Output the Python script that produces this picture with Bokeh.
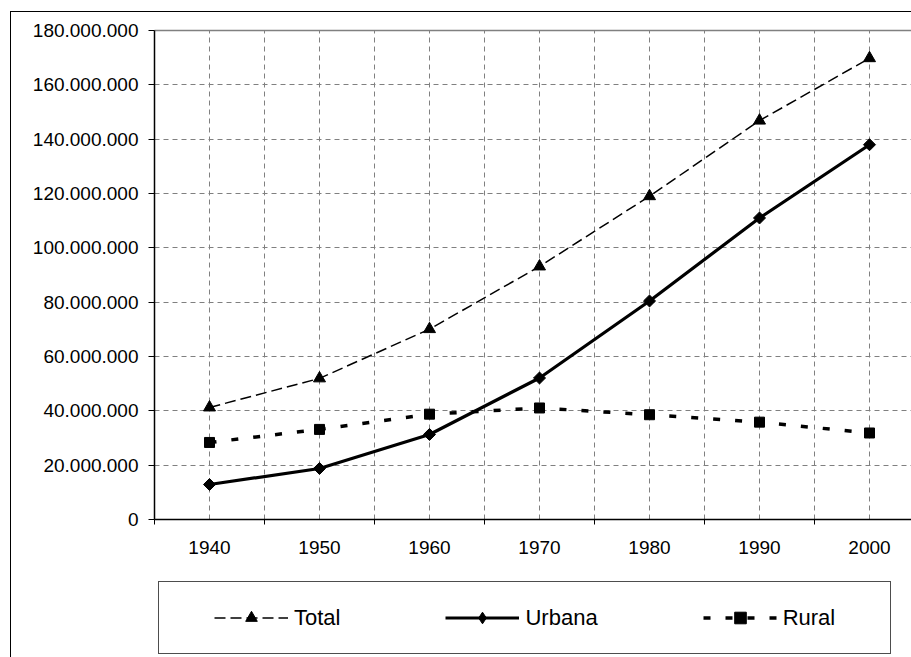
import numpy as np
from bokeh.plotting import figure
from bokeh.layouts import column
from bokeh.models import (Range1d, FixedTicker, CustomJSTickFormatter, LinearAxis,
                          Legend, LegendItem, ColumnDataSource)
from bokeh.embed import file_html
from bokeh.resources import INLINE

# ---- data ----
years = [1940, 1950, 1960, 1970, 1980, 1990, 2000]
year_labels = ["1940", "1950", "1960", "1970", "1980", "1990", "2000"]
total = [41236315, 51944397, 70070457, 93139037, 119002706, 146825475, 169799170]
urbana = [12880182, 18782891, 31303034, 52084984, 80436409, 110990990, 137953959]
rural = [28356133, 33161506, 38767423, 41054053, 38566297, 35834485, 31845211]
y_ticks = [0, 20000000, 40000000, 60000000, 80000000, 100000000,
           120000000, 140000000, 160000000, 180000000]
series_names = ["Total", "Urbana", "Rural"]

# ---- layout ----
W = 911
H1, H2 = 560, 97
LEFT, TOP, BOTTOM = 154, 30, 41
frame_w = W - LEFT
px_per_year = 11.0
x0 = years[0] - 5
FONT = "Liberation Sans"


def css_lines(lines):
    return {
        "background-color": "white",
        "background-image": ", ".join(f"linear-gradient({c},{c})" for c, _, _ in lines),
        "background-repeat": "no-repeat",
        "background-position": ", ".join(pos for _, pos, _ in lines),
        "background-size": ", ".join(sz for _, _, sz in lines),
    }


# ================= main chart =================
p = figure(width=W, height=H1, output_backend="svg", toolbar_location=None,
           x_range=Range1d(x0, x0 + frame_w / px_per_year),
           y_range=Range1d(y_ticks[0], y_ticks[-1]),
           min_border_left=LEFT, min_border_right=0,
           min_border_top=TOP, min_border_bottom=BOTTOM,
           background_fill_color="white", border_fill_color=None)
p.styles = css_lines([("#000000", "10px 11px", "1px 100%"),
                      ("#000000", "10px 11px", "100% 1px")])
p.outline_line_color = None

boundaries = [y - 5 for y in years]

xa = p.xaxis[0]
xa.ticker = FixedTicker(ticks=years, minor_ticks=boundaries)
xa.major_label_overrides = {y: l for y, l in zip(years, year_labels)}
xa.major_tick_out = 0
xa.major_tick_in = 0
xa.minor_tick_out = 5
xa.minor_tick_in = 0
xa.minor_tick_line_color = "black"
xa.minor_tick_line_width = 1
xa.axis_line_color = "black"
xa.axis_line_width = 1.5
xa.major_label_standoff = 16
xa.major_label_text_font = FONT
xa.major_label_text_font_size = "19px"
xa.major_label_text_color = "black"

ya = p.yaxis[0]
ya.ticker = FixedTicker(ticks=y_ticks)
ya.formatter = CustomJSTickFormatter(
    code=r"return Math.round(tick).toString().replace(/\B(?=(\d{3})+(?!\d))/g, '.');")
ya.major_tick_out = 6
ya.major_tick_in = 0
ya.major_tick_line_color = "black"
ya.minor_tick_line_color = None
ya.axis_line_color = "black"
ya.axis_line_width = 1.5
ya.major_label_standoff = 10
ya.major_label_text_font = FONT
ya.major_label_text_font_size = "19px"
ya.major_label_text_color = "black"

top_axis = LinearAxis(ticker=FixedTicker(ticks=[]), major_label_text_font_size="0px",
                      major_tick_out=0, minor_tick_out=0, major_tick_in=0, minor_tick_in=0,
                      axis_line_color="#808080", axis_line_width=1.5)
p.add_layout(top_axis, "above")

p.xgrid.ticker = FixedTicker(ticks=sorted(years + boundaries[1:]))
p.ygrid.ticker = FixedTicker(ticks=y_ticks[1:-1])
for g in (p.xgrid[0], p.ygrid[0]):
    g.grid_line_color = "#808080"
    g.grid_line_dash = "5 4"
    g.grid_line_width = 1

src = ColumnDataSource(dict(year=years, total=total, urbana=urbana, rural=rural))

STY = {
    "Total": dict(line=dict(line_width=1.5, line_dash="11 5"), marker="triangle", size=12),
    "Urbana": dict(line=dict(line_width=3.2), marker="square", size=8.5),
    "Rural": dict(line=dict(line_width=3.5, line_dash="7 15"), marker="square", size=10),
}
cols = {"Total": "total", "Urbana": "urbana", "Rural": "rural"}

for name in ["Urbana", "Rural", "Total"]:
    s = STY[name]
    p.line("year", cols[name], source=src, line_color="black", **s["line"])
    extra = dict(angle=np.pi / 4) if name == "Urbana" else {}
    p.scatter("year", cols[name], source=src, marker=s["marker"], size=s["size"],
              color="black", **extra)

# ================= legend strip =================
# frame aligned with the main chart's frame; legend box drawn as CSS lines
q = figure(width=W, height=H2, output_backend="svg", toolbar_location=None,
           x_range=Range1d(0, 1), y_range=Range1d(0, 1),
           x_axis_type=None, y_axis_type=None,
           min_border_left=LEFT, min_border_right=0,
           min_border_top=0, min_border_bottom=0,
           background_fill_color=None, border_fill_color=None)
q.styles = css_lines([("#000000", "10px 0px", "1px 100%"),
                      ("#4d4d4d", "158px 21px", "1px 73px"),
                      ("#4d4d4d", "890px 21px", "1px 73px"),
                      ("#4d4d4d", "158px 21px", "733px 1px"),
                      ("#4d4d4d", "158px 93px", "733px 1px")])
q.grid.visible = False
q.outline_line_color = None

items = []
for name in series_names:
    s = STY[name]
    # same data, drawn through this strip's own scales (off-range, so only the legend swatch shows)
    lr = q.line("year", cols[name], source=src, line_color="black", **s["line"])
    mk = "diamond" if name == "Urbana" else s["marker"]
    mr = q.scatter("year", cols[name], source=src, marker=mk, size=s["size"], color="black")
    items.append(LegendItem(label=name, renderers=[lr, mr]))

legend = Legend(items=items, orientation="horizontal", location=(60, 25),
                padding=0, spacing=105, glyph_width=74, glyph_height=29, label_height=29,
                label_standoff=6, label_text_font=FONT, label_text_font_size="22px",
                label_text_color="black", border_line_alpha=0, background_fill_alpha=0,
                margin=0)
q.add_layout(legend)

layout = column(p, q, spacing=0)
open("out.html", "w").write(file_html(layout, INLINE))
